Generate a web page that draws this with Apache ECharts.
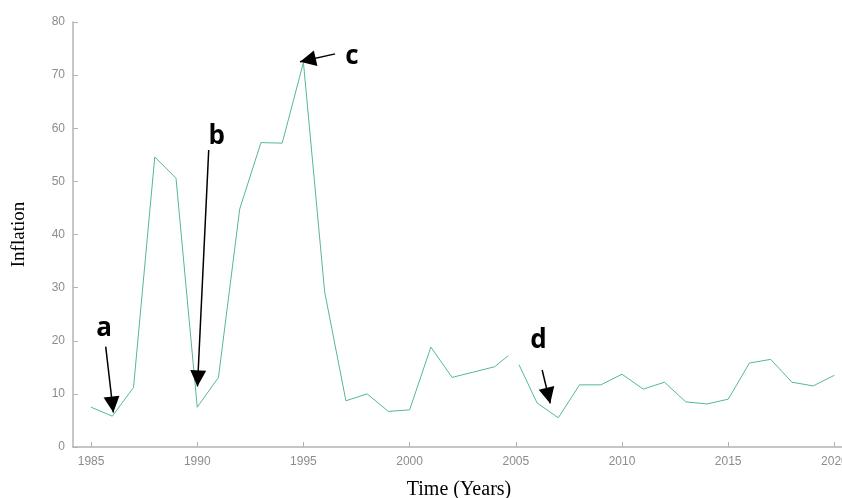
<!DOCTYPE html>
<html>
<head>
<meta charset="utf-8">
<script src="https://cdn.jsdelivr.net/npm/echarts@6/dist/echarts.min.js"></script>
<style>
  html, body { margin: 0; padding: 0; background: #fff; }
  #chart { width: 842px; height: 498px; }
</style>
</head>
<body>
<div id="chart"></div>
<script>
// years (the series is broken just after 2004, then resumes a little after 2005)
const years = [1985, 1986, 1987, 1988, 1989, 1990, 1991, 1992, 1993, 1994,
  1995, 1996, 1997, 1998, 1999, 2000, 2001, 2002, 2003, 2004, 2004.65,
  2004.9, 2005.15, 2006, 2007, 2008, 2009, 2010, 2011, 2012, 2013, 2014,
  2015, 2016, 2017, 2018, 2019, 2020];
const inflation = [7.5, 5.8, 11.2, 54.6, 50.6, 7.5, 13.1, 44.8, 57.3, 57.2,
  72.4, 29.2, 8.7, 10.0, 6.7, 7.0, 18.8, 13.1, 14.1, 15.1, 17.2,
  null, 15.5, 8.3, 5.5, 11.7, 11.7, 13.7, 10.9, 12.2, 8.5, 8.1,
  9.0, 15.8, 16.5, 12.2, 11.5, 13.5];
const xTicks = [1985, 1990, 1995, 2000, 2005, 2010, 2015, 2020];

// annotations: letter, label position, arrow start, arrow tip (data units)
const notes = [
  { name: "a", label: [1985.61, 22.2], from: [1985.69, 18.9], to: [1986.05, 6.5] },
  { name: "b", label: [1990.92, 58.4], from: [1990.54, 55.9], to: [1990.01, 11.4] },
  { name: "c", label: [1997.28, 73.5], from: [1996.49, 74.0], to: [1994.84, 72.5] },
  { name: "d", label: [2006.07, 20.1], from: [2006.24, 14.5], to: [2006.62, 8.2] }
];

const chart = echarts.init(document.getElementById("chart"));
const axisGrey = "#b3b3b3";
const labelGrey = "#8c8c8c";

chart.setOption({
  animation: false,
  grid: { left: 73, right: -3, top: 22, bottom: 51, outerBoundsMode: "none", containLabel: false },
  xAxis: {
    type: "value",
    min: 1984.15,
    max: 2020.5,
    name: "Time (Years)",
    nameLocation: "middle",
    nameGap: 33,
    nameTextStyle: { fontFamily: "Liberation Serif", fontSize: 20, color: "#000" },
    splitLine: { show: false },
    axisLine: { lineStyle: { color: axisGrey, width: 1.5 } },
    axisTick: { show: true, inside: true, length: 5, customValues: xTicks, lineStyle: { color: axisGrey } },
    axisLabel: {
      customValues: xTicks,
      color: labelGrey,
      fontFamily: "Liberation Sans",
      fontSize: 12,
      margin: 9,
      formatter: v => String(v)
    }
  },
  yAxis: {
    type: "value",
    min: 0,
    max: 80,
    interval: 10,
    name: "Inflation",
    nameLocation: "middle",
    nameGap: 44,
    nameTextStyle: { fontFamily: "Liberation Serif", fontSize: 19, color: "#000" },
    splitLine: { show: false },
    axisLine: { show: true, lineStyle: { color: axisGrey, width: 1.5 } },
    axisTick: { show: true, inside: true, length: 5, lineStyle: { color: axisGrey } },
    axisLabel: { color: labelGrey, fontFamily: "Liberation Sans", fontSize: 12, margin: 8 }
  },
  series: [
    {
      type: "line",
      data: years.map((y, i) => [y, inflation[i] === null ? "-" : inflation[i]]),
      showSymbol: false,
      connectNulls: false,
      lineStyle: { color: "#55b895", width: 1 },
      itemStyle: { color: "#55b895" },
      markLine: {
        silent: true,
        symbol: ["none", "triangle"],
        symbolSize: 16,
        symbolOffset: [[0, 0], [0, 8]],
        label: { show: false },
        lineStyle: { color: "#000", width: 1.5, type: "solid" },
        itemStyle: { color: "#000" },
        data: notes.map(n => [{ coord: n.from }, { coord: n.to }])
      },
      markPoint: {
        silent: true,
        symbol: "circle",
        symbolSize: 1,
        itemStyle: { color: "rgba(0,0,0,0)" },
        label: {
          show: true,
          position: "inside",
          color: "#000",
          fontFamily: "Open Sans",
          fontWeight: "bold",
          fontSize: 26,
          formatter: p => p.name
        },
        data: notes.map(n => ({ name: n.name, coord: n.label }))
      }
    }
  ]
});
</script>
</body>
</html>
